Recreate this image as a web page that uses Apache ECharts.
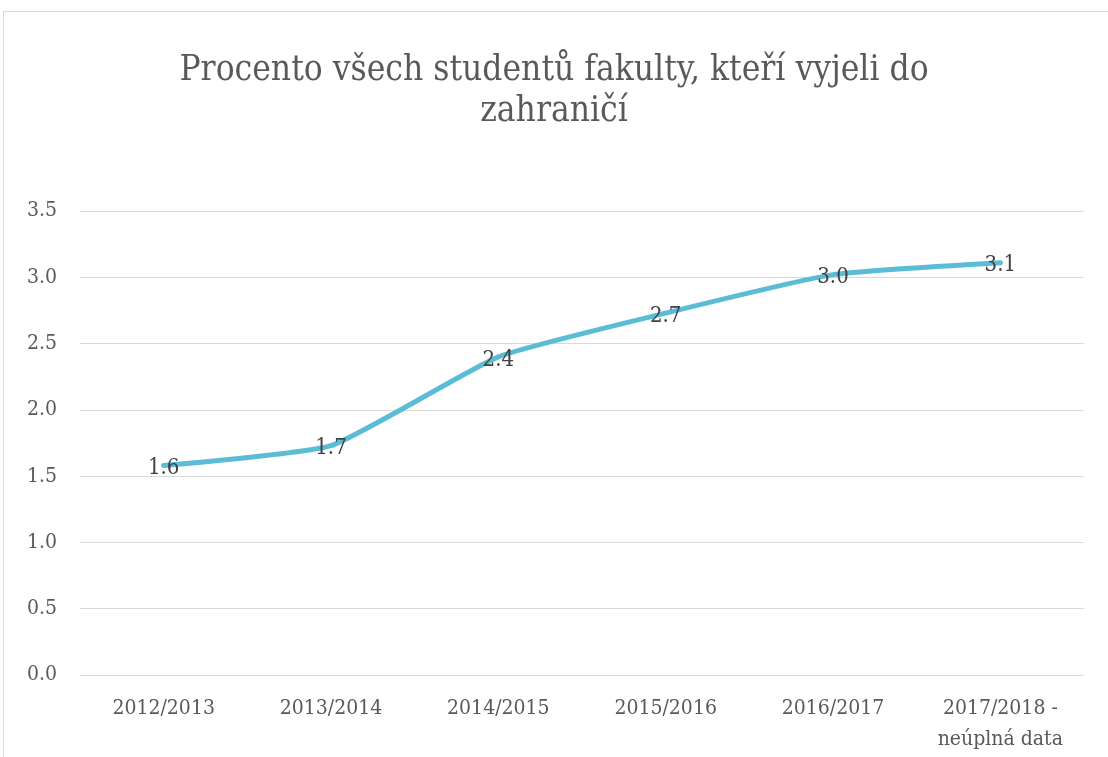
<!DOCTYPE html>
<html>
<head>
<meta charset="utf-8">
<script src="https://cdn.jsdelivr.net/npm/echarts@6/dist/echarts.min.js"></script>
<style>
  html, body { margin: 0; padding: 0; background: #fff; }
  #frame { position: absolute; left: 3px; top: 11px; width: 1105px; height: 746px;
           border-left: 1px solid #d9d9d9; border-top: 1px solid #d9d9d9; box-sizing: border-box; }
  #chart { width: 1108px; height: 757px; }
</style>
</head>
<body>
<div id="frame"></div>
<div id="chart"></div>
<script>
// Procento studentů vyjetých do zahraničí
const years = ['2012/2013', '2013/2014', '2014/2015', '2015/2016', '2016/2017', '2017/2018 -\nneúplná data']
const percent = [1.58, 1.73, 2.40, 2.73, 3.02, 3.11]

const serif = '"DejaVu Serif Condensed", "Liberation Serif", serif'

const chart = echarts.init(document.getElementById('chart'))
chart.setOption({
  animation: false,
  title: {
    text: 'Procento všech studentů fakulty, kteří vyjeli do\nzahraničí',
    left: 'center',
    top: 45,
    textStyle: { color: '#595959', fontSize: 35, fontWeight: 'normal', fontFamily: serif, lineHeight: 41 },
  },
  grid: { left: 80, right: 24, top: 211, bottom: 82 },
  xAxis: {
    type: 'category',
    data: years,
    axisLine: { show: false },
    axisTick: { show: false },
    axisLabel: { color: '#595959', fontSize: 21, fontFamily: serif, margin: 18, lineHeight: 31 },
  },
  yAxis: {
    type: 'value',
    min: 0,
    max: 3.5,
    interval: 0.5,
    axisLine: { show: false },
    axisTick: { show: false },
    axisLabel: { color: '#595959', fontSize: 21, fontFamily: serif, margin: 23, formatter: v => v.toFixed(1) },
    splitLine: { lineStyle: { color: '#d9d9d9', width: 1 } },
  },
  series: [{
    type: 'line',
    data: percent,
    smooth: 0.15,
    symbol: 'circle',
    symbolSize: 1,
    itemStyle: { color: 'rgba(0,0,0,0)' },
    lineStyle: { color: '#5bbcd6', width: 5, cap: 'round' },
    label: {
      show: true,
      position: 'inside',
      offset: [0, 3],
      color: '#404040',
      fontSize: 22,
      fontFamily: serif,
      formatter: p => p.value.toFixed(1),
    },
  }],
})
</script>
</body>
</html>
